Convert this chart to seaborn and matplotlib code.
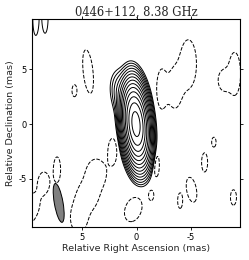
import numpy as np
import matplotlib
matplotlib.use("Agg")
import matplotlib.pyplot as plt
from matplotlib.patches import Ellipse
import seaborn as sns

# ---- data (mas, Jy/beam) ----
title = "0446+112, 8.38 GHz"
xlabel = "Relative Right Ascension (mas)"
ylabel = "Relative Declination (mas)"
xticks = [5, 0, -5]
yticks = [-5, 0, 5]
xlim = (9.6, -9.5)
ylim = (-9.4, 9.6)

# model components: RA offset, Dec offset, amplitude, FWHM major, FWHM minor, PA (deg)
comp_x = [0.05, 0.9,
          9.25, 8.4,
          4.45, 5.7, -2.3, -4.75, -3.5, -8.0, -9.0,
          2.2, -1.8, -1.35, 0.3, -4.0, -5.05, -6.25, -7.1, -8.9,
          5.3, 4.5, 3.7, 9.8, 8.5, 7.3]
comp_y = [0.0, 2.3,
          9.6, 9.7,
          4.8, 3.05, 3.2, 5.5, 3.25, 4.0, 4.6,
          -2.45, -3.7, -6.5, -7.8, -7.0, -6.0, -3.5, -1.65, -6.7,
          -8.6, -6.6, -4.5, -7.8, -5.3, -4.15]
comp_amp = [1.0, 0.002,
            1.7e-4, 1.7e-4,
            -1.7e-4, -1.7e-4, -1.7e-4, -1.7e-4, -1.7e-4, -1.7e-4, -1.7e-4,
            -1.7e-4, -1.7e-4, -1.7e-4, -1.7e-4, -1.7e-4, -1.7e-4, -1.7e-4, -1.7e-4, -1.7e-4,
            -1.7e-4, -1.7e-4, -1.7e-4, -1.7e-4, -1.7e-4, -1.7e-4]
comp_maj = [3.15, 2.6,
            3.0, 2.8,
            4.0, 1.1, 3.5, 4.4, 3.5, 1.8, 3.9,
            2.3, 2.3, 0.9, 2.3, 1.4, 2.3, 1.75, 0.9, 1.4,
            2.6, 2.4, 2.6, 3.0, 1.8, 2.3]
comp_min = [1.02, 1.3,
            0.55, 0.55,
            0.9, 0.45, 0.9, 1.5, 1.2, 1.0, 1.1,
            0.8, 0.6, 0.45, 1.5, 0.45, 0.9, 0.55, 0.4, 0.55,
            1.5, 1.8, 1.8, 1.6, 1.0, 0.65]
comp_pa = [5, 15,
           0, 0,
           6, 0, 0, 0, 0, 0, 0,
           0, 0, 0, -20, 0, 10, 0, 0, 0,
           0, 0, 0, -20, 0, 0]

levels_pos = [8.5e-5, 1.7e-4, 3.4e-4, 6.8e-4, 1.36e-3, 2.72e-3, 5.44e-3,
              1.088e-2, 2.176e-2, 4.352e-2, 8.704e-2, 0.17408, 0.34816, 0.69632]
levels_neg = [-8.5e-5]

beam_x, beam_y = 7.15, -7.2
beam_maj, beam_min, beam_pa = 3.6, 0.8, 10

# ---- build map (grid a little wider than the view) ----
gx = np.linspace(xlim[1] - 1.0, xlim[0] + 1.0, 460)
gy = np.linspace(ylim[0] - 1.0, ylim[1] + 1.0, 460)
X, Y = np.meshgrid(gx, gy)
Z = np.zeros_like(X)
for x0, y0, a, mj, mn, pa in zip(comp_x, comp_y, comp_amp, comp_maj, comp_min, comp_pa):
    t = np.deg2rad(pa)
    dx, dy = X - x0, Y - y0
    u = dx * np.sin(t) + dy * np.cos(t)
    v = dx * np.cos(t) - dy * np.sin(t)
    Z += a * np.exp(-4 * np.log(2) * ((u / mj) ** 2 + (v / mn) ** 2))

sns.set_theme(style="ticks")
plt.rcParams["axes.unicode_minus"] = False
plt.rcParams["font.family"] = ["DejaVu Sans"]

fig = plt.figure(figsize=(2.49, 2.60), dpi=100)
ax = fig.add_axes([32 / 249, 1 - 227 / 260, 208 / 249, 208 / 260])
ax.contour(X, Y, Z, levels=levels_pos, colors="black", linewidths=0.7, linestyles="solid")
ax.contour(X, Y, Z, levels=levels_neg, colors="black", linewidths=0.7, linestyles="dashed")

ax.add_patch(Ellipse((beam_x, beam_y), beam_min, beam_maj, angle=-beam_pa,
                     facecolor="#808080", edgecolor="black", linewidth=0.7))

ax.set_xlim(*xlim)
ax.set_ylim(*ylim)
ax.set_xticks(xticks)
ax.set_yticks(yticks)
ax.tick_params(direction="out", length=2.5, width=0.6, labelsize=6, pad=1.5,
               top=True, right=True, colors="black")
for s in ax.spines.values():
    s.set_linewidth(0.8)
    s.set_color("black")
ax.set_xlabel(xlabel, fontsize=6.8, labelpad=2)
ax.set_ylabel(ylabel, fontsize=6.8, labelpad=2)
ax.set_title(title, fontsize=8.3, family="DejaVu Serif", pad=2)

fig.savefig("out.png", dpi=100)
